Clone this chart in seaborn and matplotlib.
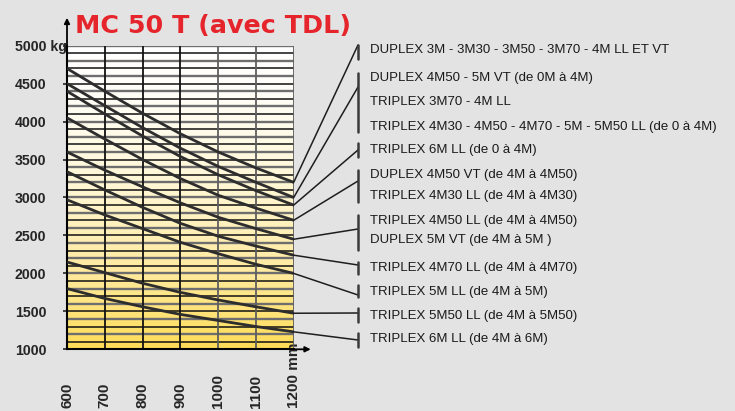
import matplotlib

matplotlib.use("Agg")
import matplotlib.pyplot as plt
import numpy as np
import pandas as pd
import seaborn as sns

W, H = 735, 411

# --- data ----------------------------------------------------------------
mm = [600, 700, 800, 900, 1000, 1100, 1200]
curve_1 = [4700, 4400, 4110, 3840, 3600, 3390, 3200]
curve_2 = [4500, 4210, 3920, 3650, 3410, 3200, 3000]
curve_3 = [4400, 4100, 3810, 3540, 3300, 3090, 2900]
curve_4 = [4050, 3770, 3500, 3250, 3030, 2860, 2700]
curve_5 = [3600, 3360, 3140, 2930, 2740, 2590, 2450]
curve_6 = [3340, 3100, 2870, 2660, 2490, 2360, 2240]
curve_7 = [2970, 2770, 2590, 2410, 2260, 2120, 2000]
curve_8 = [2150, 2010, 1870, 1750, 1650, 1560, 1475]
curve_9 = [1800, 1670, 1560, 1460, 1380, 1300, 1230]
curves = [curve_1, curve_2, curve_3, curve_4, curve_5,
          curve_6, curve_7, curve_8, curve_9]

y_ticks = [1000, 1500, 2000, 2500, 3000, 3500, 4000, 4500, 5000]
y_ticklabels = ["1000", "1500", "2000", "2500", "3000", "3500", "4000", "4500", "5000 kg"]
x_ticklabels = ["600", "700", "800", "900", "1000", "1100", "1200 mm"]

group_labels = [
    ["DUPLEX 3M - 3M30 - 3M50 - 3M70 - 4M LL ET VT"],
    ["DUPLEX 4M50 - 5M VT (de 0M à 4M)",
     "TRIPLEX 3M70 - 4M LL",
     "TRIPLEX 4M30 - 4M50 - 4M70 - 5M - 5M50 LL (de 0 à 4M)"],
    ["TRIPLEX 6M LL (de 0 à 4M)"],
    ["DUPLEX 4M50 VT (de 4M à 4M50)", "TRIPLEX 4M30 LL (de 4M à 4M30)"],
    ["TRIPLEX 4M50 LL (de 4M à 4M50)", "DUPLEX 5M VT (de 4M à 5M )"],
    ["TRIPLEX 4M70 LL (de 4M à 4M70)"],
    ["TRIPLEX 5M LL (de 4M à 5M)"],
    ["TRIPLEX 5M50 LL (de 4M à 5M50)"],
    ["TRIPLEX 6M LL (de 4M à 6M)"],
]

# --- layout (pixels of the 735x411 picture) ---------------------------------
label_y_px = [[50], [78, 102, 127], [150], [175, 196], [221, 240],
              [268], [292], [316], [339]]
bracket_px = [(45, 59), (73, 132), (143, 157), (170, 202), (215, 250),
              (262, 274), (285, 297), (308, 322), (333, 347)]
connect_px = [45, 87, 150, 181, 229, 265, 295, 313, 340]
BRACKET_X = 358
TEXT_X = 370


def fx(px):
    return px / W


def fy(py):
    return 1 - py / H


df = pd.DataFrame(
    [(i, x, y) for i, c in enumerate(curves) for x, y in zip(mm, c)],
    columns=["curve", "mm", "kg"],
)

sns.set_style("white")
plt.rcParams["font.family"] = ["Liberation Sans", "DejaVu Sans"]

fig = plt.figure(figsize=(W / 100, H / 100), dpi=100, facecolor="#e3e3e3")
ax = fig.add_axes([fx(67), fy(349.3), fx(293.7 - 67), (349.3 - 45.7) / H])

# background gradient white -> yellow
stops_kg = [1000, 2000, 3000, 4000, 4500, 5000]
stops_rgb = np.array([
    [254, 220, 88], [255, 234, 158], [255, 245, 206],
    [255, 252, 238], [255, 254, 250], [255, 255, 255],
]) / 255
kg = np.linspace(5000, 1000, 300)
grad = np.stack([np.interp(kg, stops_kg, stops_rgb[:, k]) for k in range(3)], axis=-1)
ax.imshow(grad[:, None, :], extent=[600, 1200, 1000, 5000], aspect="auto", zorder=0)

for i, v in enumerate(np.arange(1100, 5001, 100)):
    gray = i % 2 == 1
    ax.axhline(v, color="#6e6e6e" if gray else "#111111",
               lw=1.7 if gray else 1.1, zorder=1)
for v in mm[1:]:
    ax.axvline(v, color="#111111" if v < 950 else "#5e5e5e", lw=1.3, zorder=1)

sns.lineplot(data=df, x="mm", y="kg", units="curve", estimator=None,
             color="#2d2d2d", lw=2, ax=ax, zorder=3)

ax.set_xlim(600, 1200)
ax.set_ylim(1000, 5000)
ax.set_xlabel("")
ax.set_ylabel("")
for s in ("top", "right"):
    ax.spines[s].set_visible(False)
for s in ("left", "bottom"):
    ax.spines[s].set_color("black")
    ax.spines[s].set_linewidth(1.5)

ax.set_yticks(y_ticks, y_ticklabels, fontsize=10.2, fontweight="bold")
ax.tick_params(axis="y", left=True, length=3, width=1.2, pad=34.5)
for lbl in ax.get_yticklabels():
    lbl.set_horizontalalignment("left")

ax.set_xticks(mm, x_ticklabels, fontsize=11, fontweight="bold",
              rotation=90, rotation_mode="anchor", ha="left", va="center")
ax.tick_params(axis="x", bottom=False, length=0, pad=42.5)

# axis arrows
arrow = dict(arrowstyle="-|>", color="black", lw=1.3, mutation_scale=8,
             shrinkA=0, shrinkB=0)
ax.annotate("", xy=(0, 1.092), xytext=(0, 1), xycoords="axes fraction",
            arrowprops=arrow, annotation_clip=False)
ax.annotate("", xy=(1.075, 0), xytext=(1, 0), xycoords="axes fraction",
            arrowprops=arrow, annotation_clip=False)

# title
fig.text(fx(75), fy(33), "MC 50 T (avec TDL)", color="#e5242b",
         fontsize=18.3, fontweight="bold", family="DejaVu Sans",
         va="baseline", ha="left")

# connectors, brackets and labels
for c, (b0, b1), cy, labels, ys in zip(curves, bracket_px, connect_px,
                                       group_labels, label_y_px):
    ax.annotate("", xy=(fx(BRACKET_X), fy(cy)), xycoords="figure fraction",
                xytext=(mm[-1], c[-1]), textcoords="data",
                arrowprops=dict(arrowstyle="-", color="#1e1e1e", lw=1.1,
                                shrinkA=0, shrinkB=0),
                annotation_clip=False)
    fig.add_artist(plt.Line2D([fx(BRACKET_X)] * 2, [fy(b0), fy(b1)],
                              color="#3a3a3a", lw=1.8))
    for text, ty in zip(labels, ys):
        fig.text(fx(TEXT_X), fy(ty), text, fontsize=9.5, color="#1a1a1a",
                 family="Liberation Sans", va="center", ha="left")

fig.savefig("out.png", dpi=100, facecolor=fig.get_facecolor())
